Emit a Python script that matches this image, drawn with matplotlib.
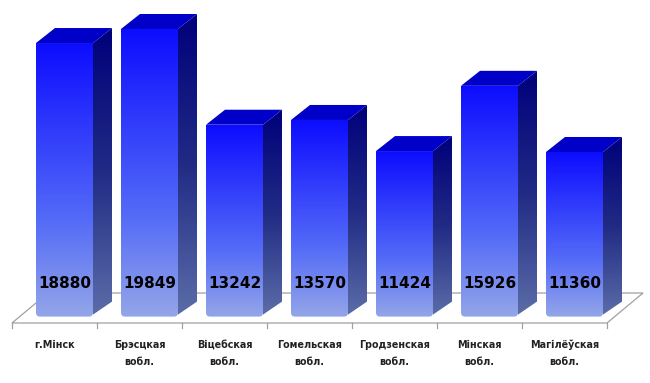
import numpy as np
import matplotlib
matplotlib.use("Agg")
import matplotlib.pyplot as plt
from matplotlib.patches import Polygon, PathPatch
from matplotlib.path import Path
from matplotlib.colors import LinearSegmentedColormap

# data
categories = ['г.Мінск', 'Брэсцкая\nвобл.', 'Віцебская\nвобл.', 'Гомельская\nвобл.',
              'Гродзенская\nвобл.', 'Мінская\nвобл.', 'Магілёўская\nвобл.']
values = [18880, 19849, 13242, 13570, 11424, 15926, 11360]

# pixel -> data helpers (figure is 650x383 at 100 dpi)
x_pix0, x_step = 64.5, 85.0
y_zero, y_scale = 316.6, 0.01449

fig = plt.figure(figsize=(6.5, 3.83), dpi=100)
ax = fig.add_axes([0, 0, 1, 1])
xlim = (-x_pix0 / x_step, (650 - x_pix0) / x_step)
ylim = ((y_zero - 383) / y_scale, y_zero / y_scale)

bar_w = 57 / x_step
dx, dy = 19 / x_step, 15 / y_scale          # bar depth
fdx, fdy = 36 / x_step, 30 / y_scale        # floor depth
rx, ry = 4 / x_step, 4 / y_scale            # rounded bottom corners

# floor
fx0 = (12 - x_pix0) / x_step
fy0 = (y_zero - 323) / y_scale
n = len(values)
floor = Polygon([(fx0, fy0), (fx0 + n, fy0), (fx0 + n + fdx, fy0 + fdy), (fx0 + fdx, fy0 + fdy)],
                closed=True, facecolor='white', edgecolor='#a0a0a0', lw=0.9, zorder=1)
ax.add_patch(floor)
tick_len = 5 / y_scale
for k in range(n + 1):
    ax.plot([fx0 + k, fx0 + k], [fy0, fy0 - tick_len], color='#a0a0a0', lw=0.9, zorder=1)

front_cmap = LinearSegmentedColormap.from_list(
    'front', [(0.0, (0.58, 0.65, 0.91)), (0.35, (0.33, 0.42, 0.97)), (1.0, (0.05, 0.05, 1.0))])
side_cmap = LinearSegmentedColormap.from_list(
    'side', [(0.0, (0.36, 0.43, 0.66)), (0.5, (0.13, 0.17, 0.52)), (1.0, (0.0, 0.0, 0.48))])
grad = np.linspace(0, 1, 256).reshape(-1, 1)

x = np.arange(n)
bars = ax.bar(x, values, width=bar_w, color='none', edgecolor='none', zorder=3)
for i, (b, v) in enumerate(zip(bars, values)):
    x0 = b.get_x()
    x1 = x0 + bar_w
    # front face outline with rounded bottom corners
    verts = [(x0, v), (x0, ry), (x0, 0), (x0 + rx, 0), (x1 - rx, 0), (x1, 0), (x1, ry),
             (x1, v), (x0, v)]
    codes = [Path.MOVETO, Path.LINETO, Path.CURVE3, Path.CURVE3, Path.LINETO,
             Path.CURVE3, Path.CURVE3, Path.LINETO, Path.CLOSEPOLY]
    front = PathPatch(Path(verts, codes), facecolor='none', edgecolor='none', zorder=3)
    ax.add_patch(front)
    im = ax.imshow(grad, cmap=front_cmap, origin='lower', aspect='auto',
                   extent=[x0, x1, 0, v], interpolation='bicubic', zorder=3)
    im.set_clip_path(front)
    side = Polygon([(x1, ry * 0.5), (x1 + dx, dy), (x1 + dx, v + dy), (x1, v)], closed=True,
                   facecolor='none', edgecolor='none', zorder=3)
    ax.add_patch(side)
    ims = ax.imshow(grad, cmap=side_cmap, origin='lower', aspect='auto',
                    extent=[x1, x1 + dx, 0, v + dy], interpolation='bicubic', zorder=3)
    ims.set_clip_path(side)
    top = Polygon([(x0, v), (x1, v), (x1 + dx, v + dy), (x0 + dx, v + dy)], closed=True,
                  facecolor='#0000c8', edgecolor='none', zorder=4)
    ax.add_patch(top)
    ax.text(i, (y_zero - 284) / y_scale, f'{v}', ha='center', va='center',
            fontsize=11, fontweight='bold', color='black', zorder=5)

# category labels
for k, c in enumerate(categories):
    ax.text(fx0 + k + 0.5, (y_zero - 340) / y_scale, c, ha='center', va='top',
            fontsize=6.9, fontweight='bold', color='#222222', linespacing=1.85)

ax.set_xlim(*xlim)
ax.set_ylim(*ylim)
ax.axis('off')
fig.savefig('out.png', dpi=100)
